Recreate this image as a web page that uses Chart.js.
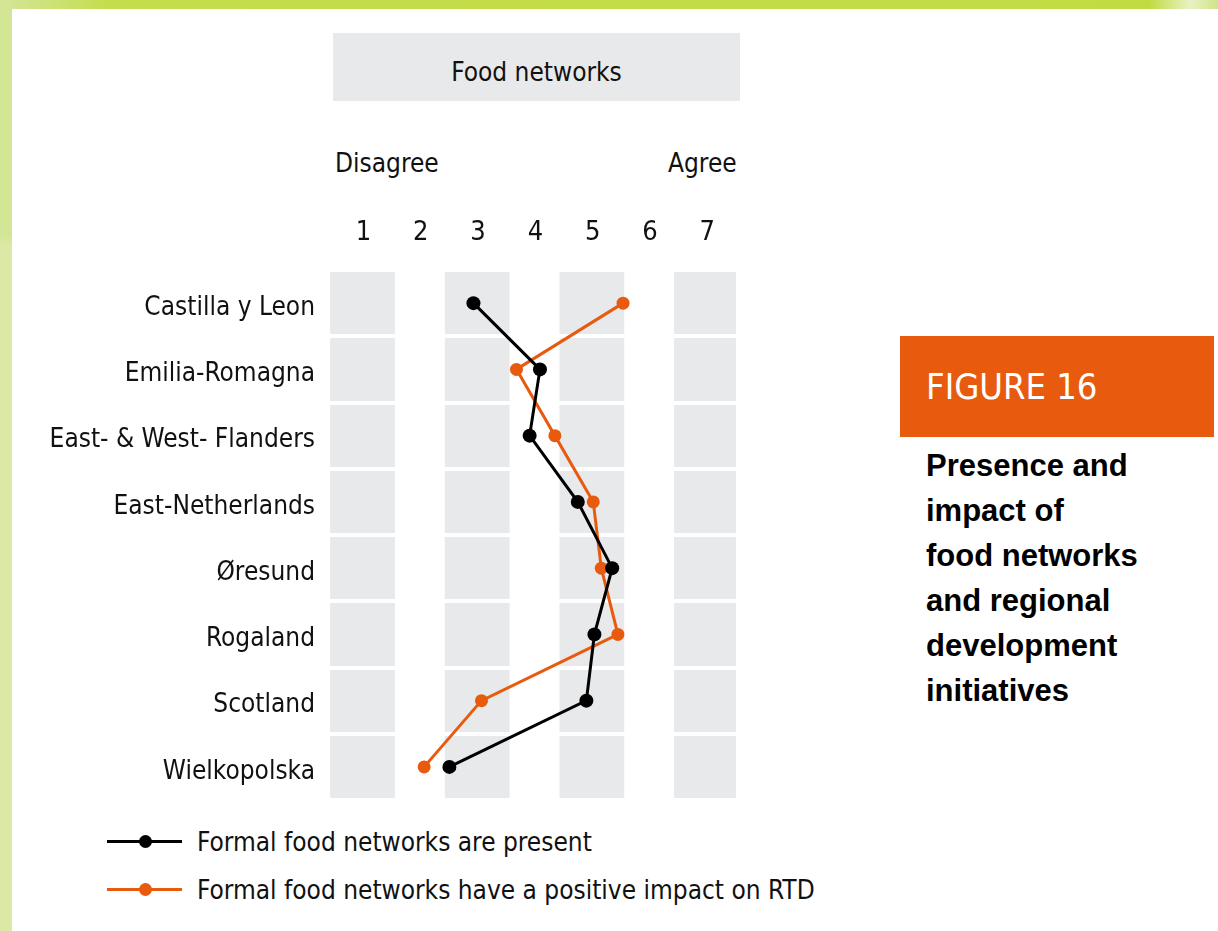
<!DOCTYPE html>
<html>
<head>
<meta charset="utf-8">
<script src="https://cdn.jsdelivr.net/npm/chart.js@4.4.1/dist/chart.umd.min.js"></script>
<style>
    body { margin: 0; width: 1218px; height: 931px; background: #fff; position: relative; overflow: hidden;
           font-family: "Liberation Sans Narrow", "DejaVu Sans Condensed", "Liberation Sans", sans-serif; color: #111; }
    .top-bar { position: absolute; left: 0; top: 0; width: 1218px; height: 9px;
               background: linear-gradient(to right, #d4e69a 0, #c4dd4c 110px, #c1dc43 1150px, #e8f2c4 1190px, #cfe48a 1218px); }
    .left-strip { position: absolute; left: 0; top: 0; width: 12px; height: 931px;
                  background: linear-gradient(to bottom, #d3e695 0, #d3e695 235px, #dbe8a6 245px, #dbe8a6 931px); }
    .title-box { position: absolute; left: 333px; top: 33px; width: 407px; height: 68px; background: #e8e9eb;
                 font-size: 26px; line-height: 78px; text-align: center; }
    .scale-end { position: absolute; top: 143px; font-size: 26px; line-height: 40px; }
    #chart-wrap { position: absolute; left: 0; top: 200px; }
    .legend { position: absolute; left: 107px; font-size: 26px; line-height: 36px; }
    .legend-line { position: absolute; left: 0; top: 16px; width: 75px; height: 3px; }
    .legend-dot { position: absolute; left: 32px; top: 11px; width: 13px; height: 13px; border-radius: 50%; }
    .legend-text { position: absolute; left: 90px; top: 0; white-space: nowrap; }
    .fig-box { position: absolute; left: 900px; top: 336px; width: 314px; height: 101px; background: #e85b0f;
               color: #fff; font-size: 36px; }
    .fig-box span { position: absolute; left: 26px; top: 28px; line-height: 46px; }
    .caption { position: absolute; left: 926px; top: 443px; font-family: "Liberation Sans", Arial, sans-serif;
               font-weight: bold; font-size: 31px; line-height: 45px; color: #000; }
</style>
</head>
<body>
<div class="top-bar"></div>
<div class="left-strip"></div>

<div class="title-box">Food networks</div>
<div class="scale-end" style="left:335px;">Disagree</div>
<div class="scale-end" style="left:668px;">Agree</div>

<div id="chart-wrap"><canvas id="food-chart" width="750" height="607"></canvas></div>

<div class="legend" style="top:824px;">
    <div class="legend-line" style="background:#000;"></div>
    <div class="legend-dot" style="background:#000;"></div>
    <div class="legend-text" id="legend-0"></div>
</div>
<div class="legend" style="top:872px;">
    <div class="legend-line" style="background:#e85b0f;"></div>
    <div class="legend-dot" style="background:#e85b0f;"></div>
    <div class="legend-text" id="legend-1"></div>
</div>

<div class="fig-box"><span>FIGURE 16</span></div>
<div class="caption">Presence and<br>impact of<br>food networks<br>and regional<br>development<br>initiatives</div>

<script>
const regions = [
    'Castilla y Leon', 'Emilia-Romagna', 'East- & West- Flanders', 'East-Netherlands',
    'Øresund', 'Rogaland', 'Scotland', 'Wielkopolska'
];
const seriesNames = [
    'Formal food networks are present',
    'Formal food networks have a positive impact on RTD'
];
const networksPresent = [2.92, 4.08, 3.90, 4.74, 5.34, 5.03, 4.89, 2.50];
const positiveImpact = [5.53, 3.67, 4.34, 5.01, 5.15, 5.44, 3.06, 2.06];
const scalePoints = [1, 2, 3, 4, 5, 6, 7];

const ORANGE = '#e85b0f';
const BAND = '#e8e9eb';
const LABEL_FONT = '"Liberation Sans Narrow", "DejaVu Sans Condensed", "Liberation Sans", sans-serif';

document.getElementById('legend-0').textContent = seriesNames[0];
document.getElementById('legend-1').textContent = seriesNames[1];

// grey columns behind the odd scale points, drawn before the white row grid
const columnBands = {
    id: 'columnBands',
    beforeDraw(chart) {
        const { ctx, chartArea, scales: { x } } = chart;
        ctx.save();
        ctx.fillStyle = BAND;
        scalePoints.filter(v => v % 2 === 1).forEach(v => {
            const left = Math.max(chartArea.left, x.getPixelForValue(v - 0.58));
            const right = Math.min(chartArea.right, x.getPixelForValue(v + 0.55));
            ctx.fillRect(left, chartArea.top, right - left, chartArea.bottom - chartArea.top);
        });
        ctx.restore();
    }
};

new Chart(document.getElementById('food-chart').getContext('2d'), {
    type: 'line',
    data: {
        labels: regions,
        datasets: [
            {
                label: seriesNames[0],
                data: networksPresent,
                borderColor: '#000',
                backgroundColor: '#000',
                borderWidth: 3,
                pointRadius: 7,
                pointBorderWidth: 0,
                tension: 0
            },
            {
                label: seriesNames[1],
                data: positiveImpact,
                borderColor: ORANGE,
                backgroundColor: ORANGE,
                borderWidth: 3,
                pointRadius: 6.5,
                pointBorderWidth: 0,
                tension: 0
            }
        ]
    },
    options: {
        indexAxis: 'y',
        responsive: false,
        animation: false,
        layout: { padding: { left: 0, right: 14, top: 0, bottom: 0 } },
        plugins: {
            legend: { display: false },
            tooltip: { enabled: false }
        },
        scales: {
            x: {
                type: 'linear',
                position: 'top',
                min: 0.4,
                max: 7.5,
                afterBuildTicks: (scale) => {
                    scale.ticks = scalePoints.map(v => ({ value: v }));
                },
                afterFit: (scale) => {
                    scale.height = 70;
                    scale.paddingLeft = 0;
                    scale.paddingRight = 0;
                },
                grid: { display: false, drawTicks: false },
                border: { display: false },
                ticks: {
                    padding: 21,
                    color: '#111',
                    font: { family: LABEL_FONT, size: 27 }
                }
            },
            y: {
                type: 'category',
                offset: true,
                afterFit: (scale) => {
                    scale.width = 329;
                    // rows fill the area: no room kept for half label heights
                    scale.paddingTop = 0;
                    scale.paddingBottom = 0;
                },
                grid: { offset: true, color: '#fff', lineWidth: 4, drawTicks: false },
                border: { display: false },
                ticks: {
                    padding: 14,
                    labelOffset: 5,
                    color: '#111',
                    font: { family: LABEL_FONT, size: 26 }
                }
            }
        }
    },
    plugins: [columnBands]
});
</script>
</body>
</html>
